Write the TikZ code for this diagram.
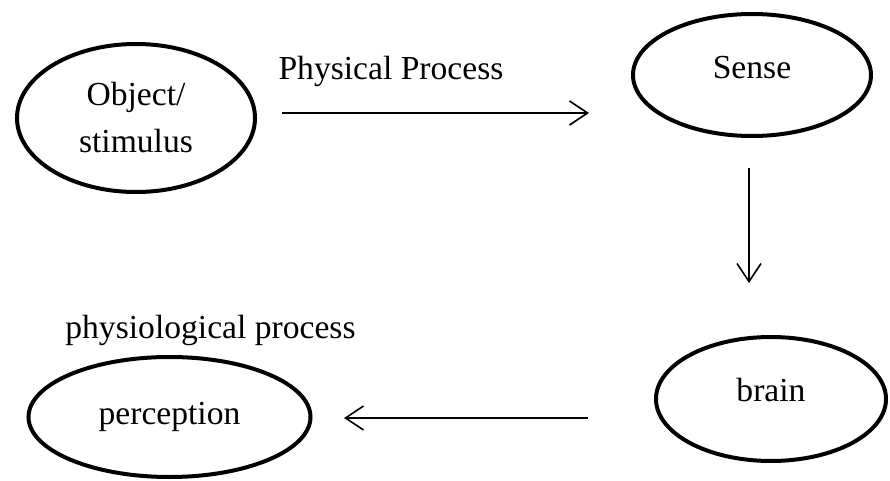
\documentclass[tikz,border=0pt]{standalone}
\usepackage{fontspec}
\setmainfont{Liberation Serif}
\usetikzlibrary{shapes.geometric,arrows.meta}
\begin{document}
\begin{tikzpicture}[x=0.5pt,y=-0.5pt,
  oval/.style={draw,ellipse,line width=2pt,inner sep=0pt,align=center,
     font=\fontsize{16.8}{23.5}\selectfont},
  lbl/.style={inner sep=0pt,font=\fontsize{16.8}{20}\selectfont},
  conn/.style={line width=0.8pt,-{Straight Barb[length=9pt,width=12pt,line width=0.8pt]}}]
\useasboundingbox (0,0) rectangle (890,481);
\node[oval,minimum width=119pt,minimum height=74pt] (obj) at (136,118) {Object/\\stimulus};
\node[oval,minimum width=119pt,minimum height=61pt,text depth=8pt] (sense) at (752,75) {Sense};
\node[oval,minimum width=115pt,minimum height=62pt,text depth=9pt] (brain) at (771,399) {brain};
\node[oval,minimum width=141pt,minimum height=60pt] (perc) at (169.5,417) {perception};
\node[lbl,anchor=base] (pp) at (391,80) {Physical Process};
\node[lbl,anchor=base west] (php) at (65,338) {physiological process};
\coordinate (a1) at (282,113);
\coordinate (a2) at (589,113);
\coordinate (b1) at (749,168);
\coordinate (b2) at (749,283);
\coordinate (c1) at (588,418);
\coordinate (c2) at (344,418);
\draw[conn] (a1) -- (a2);
\draw[conn] (b1) -- (b2);
\draw[conn] (c1) -- (c2);
\end{tikzpicture}
\end{document}
